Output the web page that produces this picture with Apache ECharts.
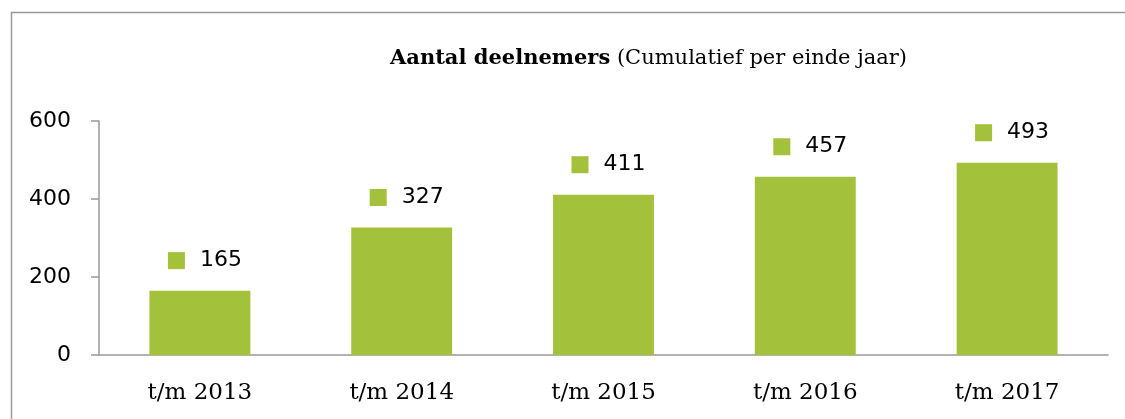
<!DOCTYPE html>
<html>
<head>
<meta charset="utf-8">
<script src="https://cdn.jsdelivr.net/npm/echarts@6/dist/echarts.min.js"></script>
<style>
html, body { margin: 0; padding: 0; background: #fff; }
#main { width: 1125px; height: 419px; }
</style>
</head>
<body>
<div id="main"></div>
<script>
var categories = ['t/m 2013', 't/m 2014', 't/m 2015', 't/m 2016', 't/m 2017'];
var deelnemers = [165, 327, 411, 457, 493];
var yTicks = [0, 200, 400, 600];

var green = '#a3c13a';
var axisGray = '#999999';

echarts.init(document.getElementById('main')).setOption({
    animation: false,
    backgroundColor: '#fff',
    title: {
        left: 385,
        top: 43,
        text: '{b|Aantal deelnemers} {n|(Cumulatief per einde jaar)}',
        textStyle: {
            fontFamily: 'DejaVu Serif',
            fontSize: 21,
            fontWeight: 'normal',
            color: '#000',
            rich: {
                b: {fontFamily: 'DejaVu Serif', fontWeight: 'bold', fontSize: 21, color: '#000'},
                n: {fontFamily: 'DejaVu Serif', fontWeight: 'normal', fontSize: 21, color: '#000'}
            }
        }
    },
    graphic: [{
        type: 'rect',
        shape: {x: 11.5, y: 12.5, width: 1200, height: 500},
        style: {fill: 'none', stroke: axisGray, lineWidth: 1.5},
        silent: true
    }],
    grid: {left: 99, right: 17, top: 121, bottom: 64},
    xAxis: {
        type: 'category',
        data: categories,
        axisLine: {lineStyle: {color: axisGray, width: 1.5}},
        axisTick: {length: 8, lineStyle: {color: axisGray, width: 1.5}},
        axisLabel: {margin: 27, fontFamily: 'DejaVu Serif', fontSize: 23, color: '#000'}
    },
    yAxis: {
        type: 'value',
        min: yTicks[0],
        max: yTicks[yTicks.length - 1],
        interval: 200,
        splitLine: {show: false},
        axisLine: {show: true, lineStyle: {color: axisGray, width: 1.5}},
        axisTick: {show: true, length: 8, lineStyle: {color: axisGray, width: 1.5}},
        axisLabel: {margin: 28, fontFamily: 'DejaVu Sans', fontSize: 22, color: '#000'}
    },
    series: [{
        type: 'bar',
        data: deelnemers,
        barWidth: '50%',
        itemStyle: {color: green},
        label: {
            show: true,
            position: 'top',
            distance: 19,
            offset: [5, 0],
            formatter: function (p) { return '{sq|}{gap|}{v|' + p.value + '}'; },
            rich: {
                sq: {width: 17, height: 17, backgroundColor: green},
                gap: {width: 15},
                v: {fontFamily: 'DejaVu Sans', fontSize: 22, color: '#000'}
            }
        }
    }]
});
</script>
</body>
</html>
